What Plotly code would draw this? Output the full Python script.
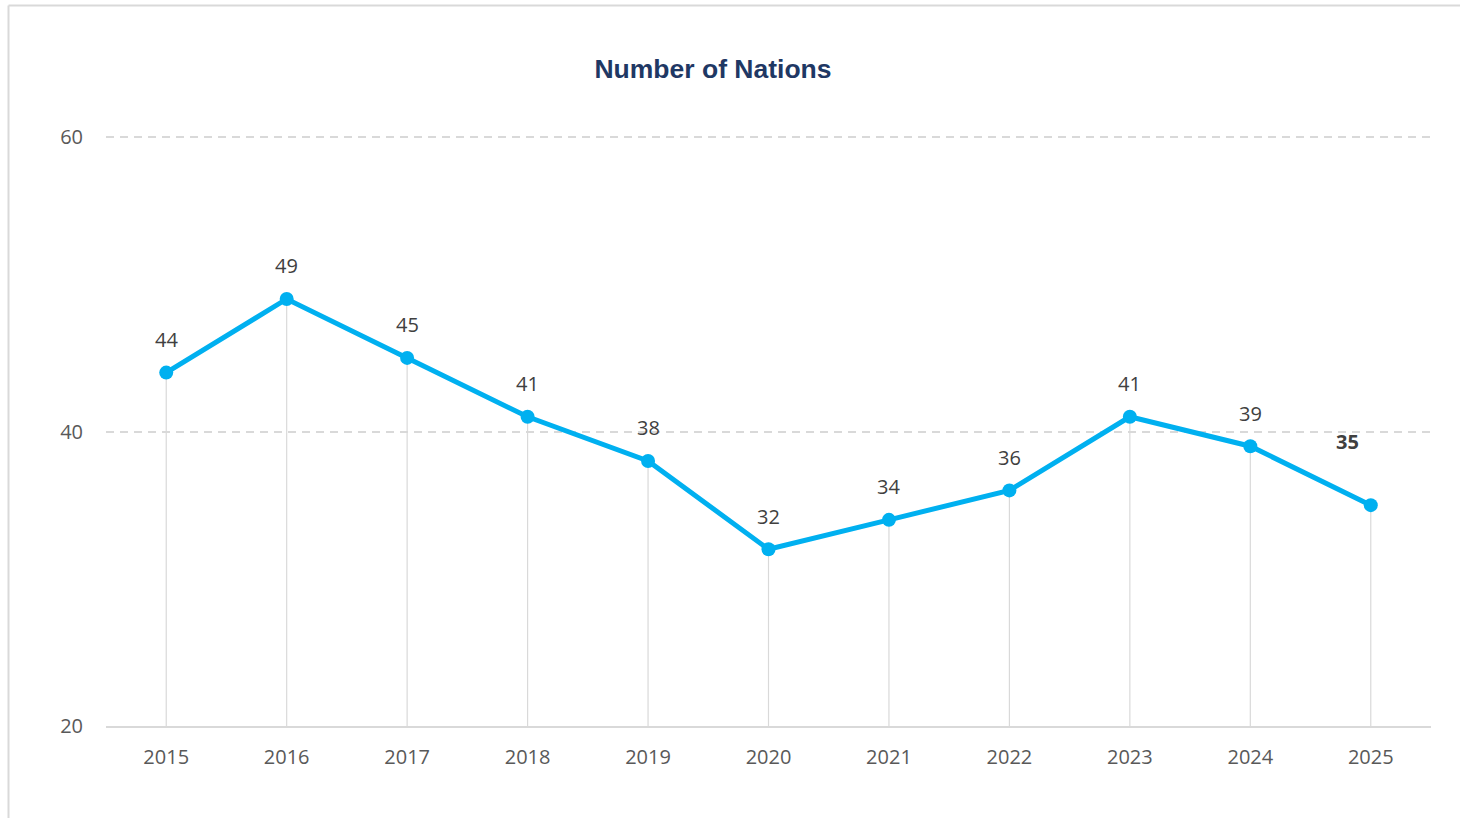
import plotly.graph_objects as go

years = ["2015", "2016", "2017", "2018", "2019", "2020", "2021", "2022", "2023", "2024", "2025"]
nations = [44, 49, 45, 41, 38, 32, 34, 36, 41, 39, 35]
y_ticks = [20, 40, 60]
title_text = "Number of Nations"

W, H = 1460, 818
ML, MR, MT, MB = 106, 29, 134, 92
PW = W - ML - MR
PH = H - MT - MB
PX_PER_UNIT = 589 / 40.0
y_top = y_ticks[0] + PH / PX_PER_UNIT

LINE_COLOR = "#00B0F0"
GRID_COLOR = "#D9D9D9"
TEXT_COLOR = "#595959"
LABEL_COLOR = "#404040"
FONT = "Open Sans"

fig = go.Figure()

# drop lines from each point to the baseline
drop_x, drop_y = [], []
for yr, v in zip(years, nations):
    drop_x += [yr, yr, None]
    drop_y += [y_ticks[0], v, None]
fig.add_trace(go.Scatter(x=drop_x, y=drop_y, mode="lines",
                         line=dict(color=GRID_COLOR, width=1.2),
                         hoverinfo="skip", showlegend=False))

fig.add_trace(go.Scatter(x=years, y=nations, mode="lines+markers",
                         line=dict(color=LINE_COLOR, width=5),
                         marker=dict(color=LINE_COLOR, size=14),
                         showlegend=False))

for i, v in enumerate(nations):
    last = i == len(nations) - 1
    fig.add_annotation(x=i, y=v, xref="x", yref="y",
                       text=f"<b>{v}</b>" if last else str(v),
                       showarrow=False,
                       xshift=-23 if last else 0,
                       yshift=64 if last else 33,
                       font=dict(family=FONT, size=20, color=LABEL_COLOR))

# chart-area frame (left and top edges visible)
fx = (8.5 - ML) / PW
fy = (H - MB - 5.5) / PH
fig.add_shape(type="line", xref="paper", yref="paper", x0=fx, x1=fx, y0=fy, y1=-0.3,
              line=dict(color=GRID_COLOR, width=2))
fig.add_shape(type="line", xref="paper", yref="paper", x0=fx, x1=1.1, y0=fy, y1=fy,
              line=dict(color=GRID_COLOR, width=2))

fig.update_layout(
    width=W, height=H,
    margin=dict(l=ML, r=MR, t=MT, b=MB),
    paper_bgcolor="white", plot_bgcolor="white",
    title=dict(text=f"<b>{title_text}</b>", x=713 / W, xanchor="center",
               xref="container", y=1 - 69 / H, yanchor="middle", yref="container",
               font=dict(family="Liberation Sans", size=26.5, color="#1F3864")),
    xaxis=dict(type="category", range=[-0.5, len(years) - 0.5],
               showgrid=False, showline=True, linecolor=GRID_COLOR, linewidth=2,
               ticks="outside", ticklen=12, tickcolor="rgba(0,0,0,0)",
               tickfont=dict(family=FONT, size=20, color=TEXT_COLOR), zeroline=False),
    yaxis=dict(range=[y_ticks[0], y_top], tickvals=y_ticks,
               showgrid=True, gridcolor=GRID_COLOR, griddash="8px,6px", gridwidth=1.5,
               showline=False, zeroline=False,
               ticks="outside", ticklen=18, tickcolor="rgba(0,0,0,0)",
               tickfont=dict(family=FONT, size=20, color=TEXT_COLOR)),
    font=dict(family=FONT),
)

fig.write_html("out.html")
